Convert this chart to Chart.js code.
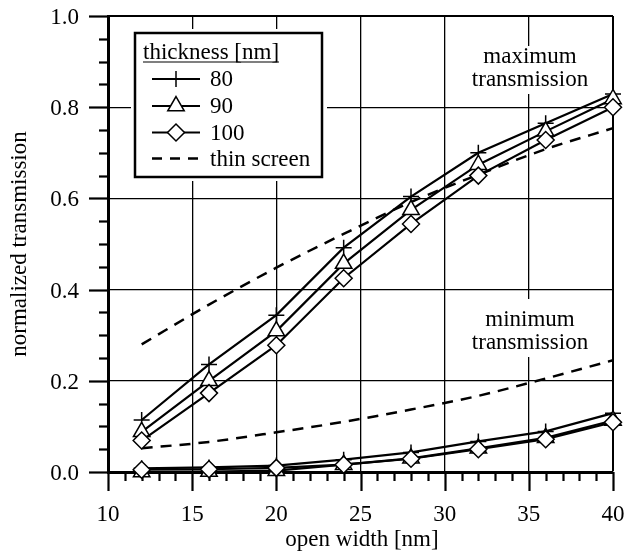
<!DOCTYPE html>
<html>
<head>
<meta charset="utf-8">
<script src="https://cdn.jsdelivr.net/npm/chart.js@4/dist/chart.umd.min.js"></script>
<style>
  body { margin: 0; background: #fff; }
  #wrap { width: 626px; height: 559px; }
</style>
</head>
<body>
<div id="wrap"><canvas id="grafico" width="626" height="559"></canvas></div>
<script>
// open width [nm]
const anchos = [12, 16, 20, 24, 28, 32, 36, 40]
// maximum transmission
const max80 = [0.114, 0.236, 0.344, 0.492, 0.604, 0.700, 0.765, 0.829]
const max90 = [0.088, 0.200, 0.309, 0.457, 0.575, 0.674, 0.747, 0.818]
const max100 = [0.069, 0.173, 0.278, 0.425, 0.544, 0.650, 0.728, 0.800]
const maxThin = [0.280, 0.367, 0.448, 0.522, 0.592, 0.652, 0.708, 0.754]
// minimum transmission
const min80 = [0.008, 0.010, 0.014, 0.027, 0.043, 0.067, 0.089, 0.129]
const min90 = [0.000, 0.001, 0.003, 0.016, 0.030, 0.052, 0.075, 0.113]
const min100 = [0.005, 0.006, 0.009, 0.016, 0.029, 0.050, 0.072, 0.109]
const minThin = [0.052, 0.066, 0.087, 0.110, 0.137, 0.167, 0.205, 0.245]
// ticks
const xTicks = [10, 15, 20, 25, 30, 35, 40]
const yTicks = [0.0, 0.2, 0.4, 0.6, 0.8, 1.0]
const leyenda = ['80', '90', '100', 'thin screen']

const fuente = '"Liberation Serif", "Times New Roman", serif'

function puntos(ys){
    return anchos.map((x, i) => ({x: x, y: ys[i]}))
}

const estilos = {
    '80': {pointStyle: 'cross', pointRadius: 8},
    '90': {pointStyle: 'triangle', pointRadius: 9.5},
    '100': {pointStyle: 'rectRot', pointRadius: 8.5}
}

function serie(ys, grosor, orden){
    return {
        data: puntos(ys),
        borderColor: '#000',
        borderWidth: 2.2,
        pointBackgroundColor: '#fff',
        pointBorderColor: '#000',
        pointBorderWidth: 1.5,
        pointStyle: estilos[grosor].pointStyle,
        pointRadius: estilos[grosor].pointRadius,
        tension: 0,
        clip: false,
        order: orden
    }
}

function discontinua(ys){
    return {
        data: puntos(ys),
        borderColor: '#000',
        borderWidth: 2.5,
        borderDash: [11, 8],
        pointRadius: 0,
        cubicInterpolationMode: 'monotone',
        clip: false,
        order: 5
    }
}

// ticks, tick labels, white boxes, legend and texts
const extras = {
    id: 'extras',
    beforeDatasetsDraw(chart){
        const ctx = chart.ctx
        const xs = chart.scales.x, ys = chart.scales.y
        const x0 = xs.getPixelForValue(10), y0 = ys.getPixelForValue(0)
        ctx.save()
        ctx.strokeStyle = '#000'
        ctx.lineWidth = 2.2
        for (let v = 10; v <= 40; v++){
            const px = Math.round(xs.getPixelForValue(v)) + 0.5
            const largo = v % 5 == 0 ? 19 : 9
            ctx.beginPath(); ctx.moveTo(px, y0); ctx.lineTo(px, y0 + largo); ctx.stroke()
        }
        for (let k = 0; k <= 20; k++){
            const py = Math.round(ys.getPixelForValue(k * 0.05)) + 0.5
            const largo = k % 4 == 0 ? 19 : 9
            ctx.beginPath(); ctx.moveTo(x0, py); ctx.lineTo(x0 - largo, py); ctx.stroke()
        }
        // tick labels
        ctx.fillStyle = '#000'
        ctx.font = '23px ' + fuente
        ctx.textAlign = 'center'
        ctx.textBaseline = 'alphabetic'
        xTicks.forEach(v => ctx.fillText(String(v), xs.getPixelForValue(v), 521))
        ctx.textAlign = 'right'
        yTicks.forEach(v => ctx.fillText(v.toFixed(1), 79, ys.getPixelForValue(v) + 8))
        // white behind legend and annotations
        ctx.fillStyle = '#fff'
        ctx.fillRect(131, 29, 196, 152)
        ctx.fillRect(464, 46, 132, 48)
        ctx.fillRect(464, 299, 132, 58)
        ctx.restore()
    },
    afterDraw(chart){
        const ctx = chart.ctx
        ctx.save()
        ctx.fillStyle = '#000'
        ctx.font = '23px ' + fuente
        ctx.textBaseline = 'alphabetic'
        ctx.textAlign = 'center'
        ctx.fillText('maximum', 530, 63)
        ctx.fillText('transmission', 530, 86)
        ctx.fillText('minimum', 530, 326)
        ctx.fillText('transmission', 530, 349)
        ctx.fillText('open width [nm]', 362, 546)
        ctx.save()
        ctx.translate(26, 244)
        ctx.rotate(-Math.PI / 2)
        ctx.fillText('normalized transmission', 0, 0)
        ctx.restore()

        // legend box
        ctx.strokeStyle = '#000'
        ctx.lineWidth = 2.5
        ctx.strokeRect(135, 33, 187, 144)
        ctx.textAlign = 'left'
        ctx.fillText('thickness [nm]', 143, 59)
        const w = ctx.measureText('thickness [nm]').width
        ctx.lineWidth = 1.2
        ctx.beginPath(); ctx.moveTo(143, 62); ctx.lineTo(143 + w, 62); ctx.stroke()

        const filas = [79, 106, 132.5, 158.5]
        leyenda.forEach((nombre, i) => {
            const y = filas[i]
            ctx.strokeStyle = '#000'
            ctx.lineWidth = i == 3 ? 2.5 : 2.2
            ctx.setLineDash(i == 3 ? [10, 8] : [])
            ctx.beginPath(); ctx.moveTo(152, y); ctx.lineTo(200, y); ctx.stroke()
            ctx.setLineDash([])
            if (i < 3){
                ctx.fillStyle = '#fff'
                ctx.lineWidth = 1.5
                Chart.helpers.drawPoint(ctx, {
                    pointStyle: estilos[nombre].pointStyle,
                    radius: estilos[nombre].pointRadius,
                    rotation: 0,
                    borderWidth: 1.5
                }, 176, y)
            }
            ctx.fillStyle = '#000'
            ctx.fillText(nombre, 210, y + 7)
        })
        ctx.restore()
    }
}

const ctx1 = document.getElementById('grafico').getContext('2d')
const grafico = new Chart(ctx1, {
    type: 'line',
    data: {
        datasets: [
            serie(max100, '100', 0),
            serie(max90, '90', 1),
            serie(max80, '80', 2),
            serie(min100, '100', 0),
            serie(min90, '90', 1),
            serie(min80, '80', 2),
            discontinua(maxThin),
            discontinua(minThin)
        ]
    },
    options: {
        responsive: false,
        animation: false,
        events: [],
        layout: {padding: {left: 0, right: 13, top: 16, bottom: 0}},
        plugins: {legend: {display: false}, tooltip: {enabled: false}},
        scales: {
            x: {
                type: 'linear',
                min: 10, max: 40,
                afterBuildTicks: s => { s.ticks = xTicks.map(v => ({value: v})) },
                afterFit: s => { s.height = 87 },
                ticks: {display: false},
                grid: {
                    color: '#000',
                    lineWidth: c => (c.tick && c.tick.value == 40) ? 2 : 1.3,
                    drawTicks: false
                },
                border: {display: true, color: '#000', width: 3}
            },
            y: {
                min: 0, max: 1,
                afterBuildTicks: s => { s.ticks = yTicks.map(v => ({value: v})) },
                afterFit: s => { s.width = 108 },
                ticks: {display: false},
                grid: {
                    color: '#000',
                    lineWidth: c => (c.tick && c.tick.value == 1) ? 2 : 1.3,
                    drawTicks: false
                },
                border: {display: true, color: '#000', width: 3}
            }
        }
    },
    plugins: [extras]
})
</script>
</body>
</html>
